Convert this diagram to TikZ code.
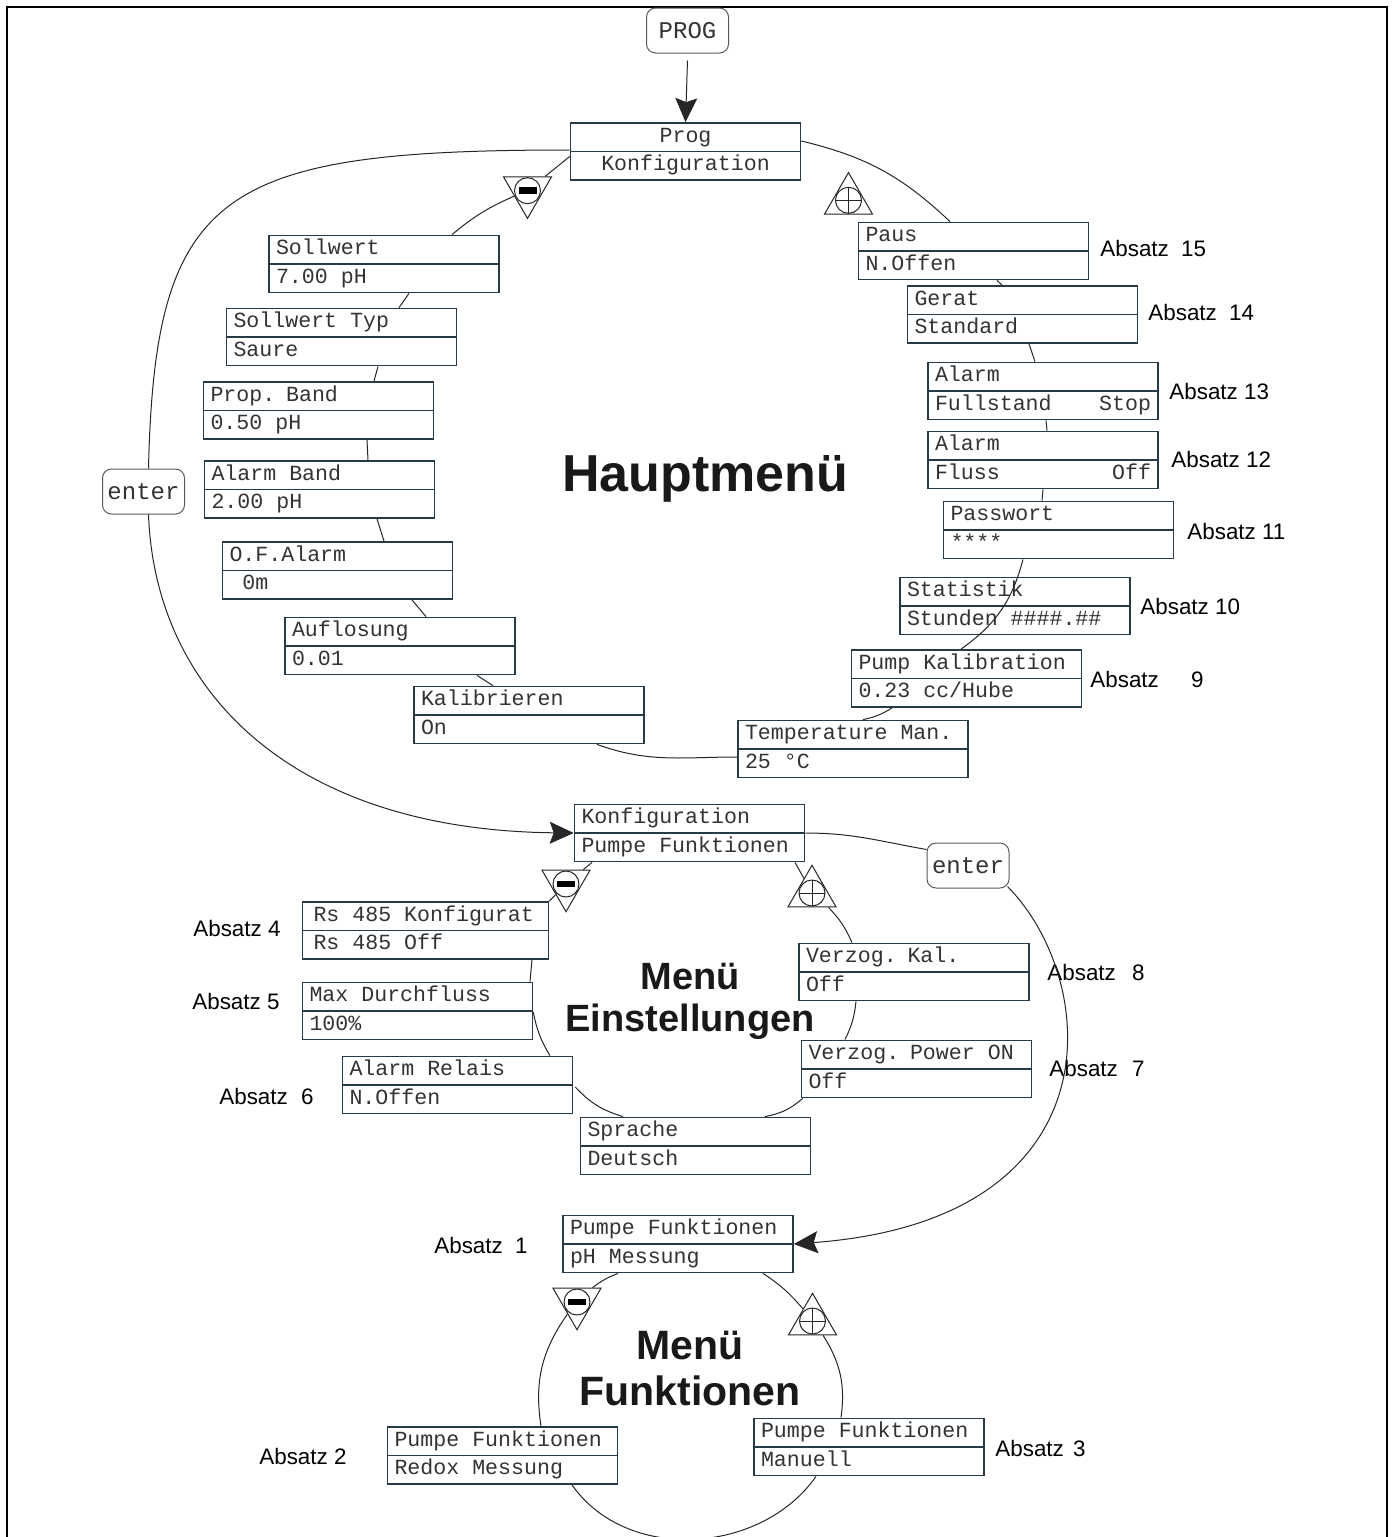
\documentclass[tikz,border=0pt]{standalone}
\usepackage{fontspec}
\setmainfont{Liberation Sans}
\newfontfamily\lcdfont[WordSpace={1,0,0}]{Liberation Mono}
\usetikzlibrary{arrows.meta,shapes.multipart,shapes.geometric,calc}
\definecolor{boxline}{RGB}{38,58,72}
\newcommand{\mstrut}{\spaceskip=0.6em\relax\rule[-4.2pt]{0pt}{13.5pt}}
\newcommand{\lcd}[2]{\mstrut #1\nodepart{two}\mstrut #2}
\begin{document}
\begin{tikzpicture}[x=0.5pt, y=0.5pt, every node/.style={font=\fontsize{11.2}{13}\selectfont}, >={Stealth[length=12pt, width=11pt, inset=2pt]},
	menu/.style={rectangle split, rectangle split parts=2, draw=boxline, line width=0.8pt, fill=white, text width=108pt, inner xsep=3.5pt, inner ysep=0pt, align=left, text=black!80, font=\lcdfont\fontsize{10.8}{12}\selectfont},
	key/.style={draw=black!65, line width=0.5pt, rounded corners=4.5pt, minimum width=41pt, minimum height=22.5pt, inner sep=0pt, text=black!80, font=\lcdfont\fontsize{12}{14}\selectfont},
	tri/.style={regular polygon, regular polygon sides=3, draw=black!85, line width=0.5pt, fill=white, minimum size=27.7pt, inner sep=0pt},
	minustri/.style={tri, shape border rotate=180, label={[circle, draw=black!85, line width=0.5pt, minimum size=13pt, inner sep=0pt]center:\rule{9pt}{3.3pt}}},
	plustri/.style={tri, label={[circle, draw=black!85, line width=0.5pt, minimum size=13pt, inner sep=0pt, path picture={\draw (path picture bounding box.north) -- (path picture bounding box.south) (path picture bounding box.west) -- (path picture bounding box.east);}]center:{}}},
	link/.style={draw=black!85, line width=0.5pt},
	absatz/.style={anchor=west, inner xsep=0pt},
	title/.style={align=center, text=black!90, font=\bfseries\fontsize{26}{30}\selectfont}]
	\useasboundingbox (0,0) rectangle (1394,-1537);
	\draw[line width=1pt] (7,-1537) -- (7,-7) -- (1386.5,-7) -- (1386.5,-1537);
	\node[key] (progkey) at (687.5,-30.5) {PROG};
	\node[key] (enterL) at (143.5,-491.5) {enter};
	\node[key] (enterR) at (968,-865.5) {enter};
	\node[menu, align=center] (prog) at (685.5,-151.5) {\lcd{Prog}{Konfiguration}};
	\node[menu] (sollw) at (384,-264) {\lcd{Sollwert}{7.00 pH}};
	\node[menu] (styp) at (341.5,-337) {\lcd{Sollwert Typ}{Saure}};
	\node[menu] (prop) at (318.5,-410.5) {\lcd{Prop. Band}{0.50 pH}};
	\node[menu] (aband) at (319.5,-489.5) {\lcd{Alarm Band}{2.00 pH}};
	\node[menu] (ofal) at (337.5,-570.5) {\lcd{O.F.Alarm}{\ 0m}};
	\node[menu] (aufl) at (400,-646) {\lcd{Auflosung}{0.01}};
	\node[menu] (kalib) at (529,-715) {\lcd{Kalibrieren}{On}};
	\node[menu] (temp) at (853,-749) {\lcd{Temperature Man.}{25 °C}};
	\node[menu] (pump) at (966.5,-678.5) {\lcd{Pump Kalibration}{0.23 cc/Hube}};
	\node[menu] (stat) at (1015,-606) {\lcd{Statistik}{Stunden \#\#\#\#.\#\#}};
	\node[menu] (passw) at (1058.5,-530) {\lcd{Passwort}{****}};
	\node[menu] (al12) at (1043,-460) {\lcd{Alarm}{Fluss\hfill Off}};
	\node[menu] (al13) at (1043,-391) {\lcd{Alarm}{Fullstand\hfill Stop}};
	\node[menu] (gerat) at (1022.5,-314.5) {\lcd{Gerat}{Standard}};
	\node[menu] (paus) at (973.5,-251) {\lcd{Paus}{N.Offen}};
	\node[menu] (konf) at (689.5,-833) {\lcd{Konfiguration}{Pumpe Funktionen}};
	\node[menu, text width=112pt, inner xsep=5.5pt] (rs) at (425.5,-930.5) {\lcd{Rs 485 Konfigurat}{Rs 485 Off}};
	\node[menu] (maxd) at (417.5,-1011) {\lcd{Max Durchfluss}{100\%}};
	\node[menu] (alrel) at (457.5,-1085) {\lcd{Alarm Relais}{N.Offen}};
	\node[menu] (spr) at (695.5,-1146) {\lcd{Sprache}{Deutsch}};
	\node[menu] (vpow) at (916.5,-1069) {\lcd{Verzog. Power ON}{Off}};
	\node[menu] (vkal) at (914,-972) {\lcd{Verzog. Kal.}{Off}};
	\node[menu] (pf1) at (678,-1244) {\lcd{Pumpe Funktionen}{pH Messung}};
	\node[menu] (pf2) at (502.5,-1455.5) {\lcd{Pumpe Funktionen}{Redox Messung}};
	\node[menu] (pf3) at (869,-1447) {\lcd{Pumpe Funktionen}{Manuell}};
	\node[minustri] (mi1) at (527.5,-190.7) {};
	\node[plustri] (pl1) at (848.5,-200.3) {};
	\node[minustri] (mi2) at (566,-884) {};
	\node[plustri] (pl2) at (812,-893) {};
	\node[minustri] (mi3) at (577,-1302) {};
	\node[plustri] (pl3) at (812.5,-1321) {};
	\node[title] (haupt) at (705,-479) {Hauptmenü};
	\node[title, font=\bfseries\fontsize{19}{21}\selectfont] (einst) at (690,-1001) {Menü\\Einstellungen};
	\node[title, font=\bfseries\fontsize{20.5}{23}\selectfont] (funkt) at (690,-1368) {Menü\\Funktionen};
	\node[absatz] (a15) at (1100,-248) {Absatz\hspace{3pt} 15};
	\node[absatz] (a14) at (1148,-312) {Absatz\hspace{3pt} 14};
	\node[absatz] (a13) at (1169,-391) {Absatz 13};
	\node[absatz] (a12) at (1171,-459) {Absatz 12};
	\node[absatz] (a11) at (1187,-531) {Absatz 11};
	\node[absatz] (a10) at (1140,-606) {Absatz 10};
	\node[absatz] (a9) at (1090,-679) {Absatz\hspace{13pt} 9};
	\node[absatz] (a8) at (1047,-972) {Absatz\hspace{5pt} 8};
	\node[absatz] (a7) at (1049,-1068) {Absatz\hspace{4pt} 7};
	\node[absatz] (a4) at (193,-928) {Absatz 4};
	\node[absatz] (a5) at (192,-1001) {Absatz 5};
	\node[absatz] (a6) at (219,-1096) {Absatz\hspace{3.5pt} 6};
	\node[absatz] (a1) at (434,-1245) {Absatz\hspace{3pt} 1};
	\node[absatz] (a2) at (259,-1456) {Absatz 2};
	\node[absatz] (a3) at (995,-1448) {Absatz\hspace{1.5pt} 3};
	\draw[link, ->] (progkey.south) ++(0,-7) -- (prog.north);
	\draw[link] ($(prog.west)+(0,-5)$) -- (mi1);
	\draw[link] (mi1) to[bend right=8] ($(sollw.north)+(68,0)$);
	\draw[link] ($(sollw.south)+(25,0)$) -- ($(styp.north)+(57.5,0)$);
	\draw[link] ($(styp.south)+(36.5,0)$) -- ($(prop.north)+(55.5,0)$);
	\draw[link] ($(prop.south)+(48.5,0)$) -- ($(aband.north)+(48.5,0)$);
	\draw[link] ($(aband.south)+(57.5,0)$) -- ($(ofal.north)+(46.5,0)$);
	\draw[link] ($(ofal.south)+(74.5,0)$) -- ($(aufl.north)+(26,0)$);
	\draw[link] ($(aufl.south)+(77,0)$) -- ($(kalib.north)+(-36,0)$);
	\draw[link] ($(kalib.south)+(68,0)$) to[out=-20, in=180] ($(temp.west)+(0,-8)$);
	\draw[link] ($(temp.north)+(10,0)$) to[bend right=10] ($(pump.south)+(-74.5,0)$);
	\draw[link] ($(pump.north)+(-5.5,0)$) to[bend right=20] ($(passw.south)+(-35.5,0)$);
	\draw[link] ($(passw.north)+(-16.5,0)$) -- (al12.south);
	\draw[link] ($(al12.north)+(4,0)$) -- ($(al13.south)+(3,0)$);
	\draw[link] ($(al13.north)+(-8,0)$) -- ($(gerat.south)+(6.5,0)$);
	\draw[link] ($(gerat.north)+(-20.5,0)$) -- ($(paus.south)+(23.5,0)$);
	\draw[link] ($(paus.north)+(-23.5,0)$) to[bend right=15] ($(prog.east)+(0,10.5)$);
	\draw[link] ($(prog.west)+(0,1.5)$) .. controls (220,-150) and (155,-190) .. ($(enterL.north)+(5,0)$);
	\draw[link, ->] ($(enterL.south)+(5,0)$) .. controls (155,-690) and (290,-830) .. (konf.west);
	\draw[link] (konf.east) to[out=0, in=170] ($(enterR.west)+(0,16)$);
	\draw[link, ->] ($(enterR.south east)+(-2,2)$) .. controls (1100,-980) and (1120,-1220) .. (pf1.east);
	\draw[link] ($(konf.south)+(-97.5,0)$) -- (mi2);
	\draw[link] (mi2) -- (rs.north east);
	\draw[link] ($(rs.south)+(106.5,0)$) -- ($(maxd.north)+(112.5,0)$);
	\draw[link] ($(maxd.east)+(0,-1)$) to[bend right=10] ($(alrel.north)+(92.5,0)$);
	\draw[link] ($(alrel.east)+(2,-2)$) to[bend right=15] ($(spr.north)+(-72.5,0)$);
	\draw[link] ($(spr.north)+(69.5,0)$) to[bend right=15] ($(vpow.south west)+(2,0)$);
	\draw[link] ($(vpow.north)+(-71.5,0)$) to[bend right=10] ($(vkal.south)+(-58,0)$);
	\draw[link] ($(vkal.north)+(-62,0)$) to[bend right=10] (pl2);
	\draw[link] (pl2) -- ($(konf.south)+(105.5,0)$);
	\draw[link] ($(pf1.south)+(-60,0)$) to[bend right=8] (mi3);
	\draw[link] (mi3) to[bend right=22] ($(pf2.north)+(38.5,0)$);
	\draw[link] ($(pf2.south)+(69.5,0)$) to[out=-55, in=-125] ($(pf3.south)+(-53,0)$);
	\draw[link] ($(pf3.north)+(-28,0)$) to[bend right=20] (pl3);
	\draw[link] (pl3) to[bend right=8] ($(pf1.south)+(85,0)$);
\end{tikzpicture}
\end{document}
